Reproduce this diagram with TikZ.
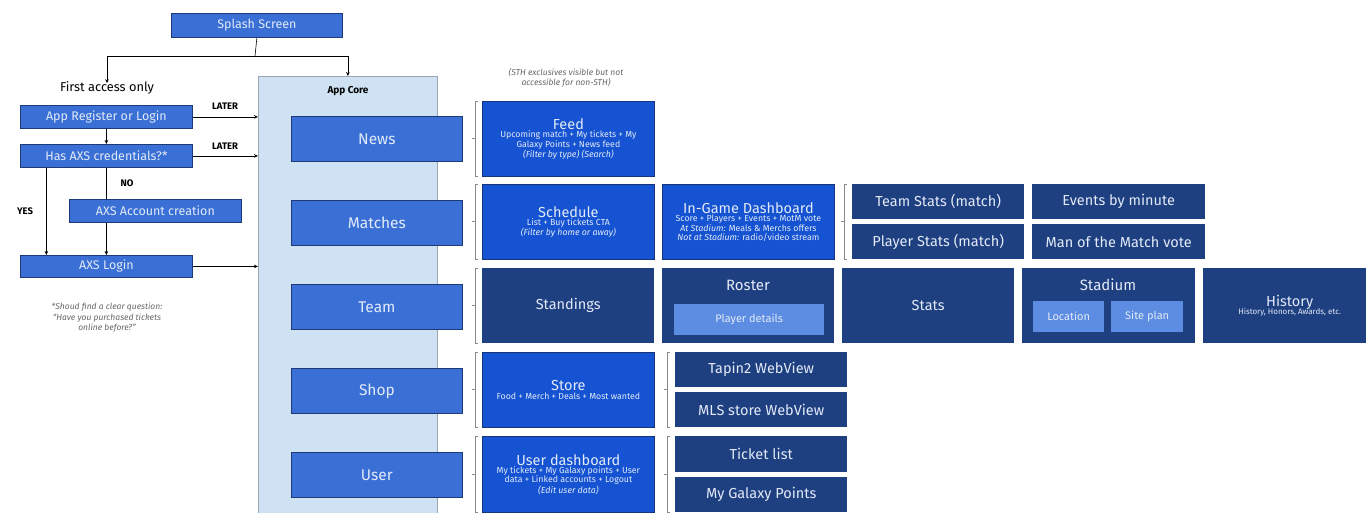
\documentclass[tikz,border=0pt]{standalone}
\usepackage{fontspec}
\setmainfont{Fira Sans}
\usetikzlibrary{arrows.meta}

\definecolor{midblue}{HTML}{3A70D6}
\definecolor{midedge}{HTML}{1E3A78}
\definecolor{royal}{HTML}{1553D2}
\definecolor{royaledge}{HTML}{16357A}
\definecolor{navy}{HTML}{1E3F80}
\definecolor{lightblue}{HTML}{5C8DE2}
\definecolor{corefill}{HTML}{CFE2F3}
\definecolor{coreedge}{HTML}{9AA6B4}
\definecolor{paletext}{HTML}{E2EAF7}
\definecolor{notegray}{HTML}{666666}
\definecolor{bracegray}{HTML}{8A8A8A}

\tikzset{
  flow/.style={draw=midedge, line width=0.8pt, fill=midblue, text=paletext,
    font=\fontsize{12.5}{14}\selectfont, minimum width=172pt, minimum height=23pt,
    inner sep=0pt, anchor=north west},
  section/.style={draw=midedge, line width=0.8pt, fill=midblue, text=paletext,
    font=\fontsize{15.5}{17}\selectfont, minimum width=171pt, minimum height=45pt,
    inner sep=0pt, anchor=north west},
  screen/.style={draw=royaledge, line width=0.8pt, fill=royal, text=paletext, align=flush center,
    text width=170pt, font=\fontsize{14.5}{16}\selectfont, minimum width=172pt, minimum height=75pt,
    inner sep=0pt, anchor=north west},
  subscreen/.style={fill=navy, text=paletext, align=flush center, text width=170pt,
    font=\fontsize{14.5}{16}\selectfont, minimum width=172pt, minimum height=75pt,
    inner sep=0pt, anchor=north west},
  leaf/.style={fill=navy, text=paletext, font=\fontsize{14.5}{16}\selectfont,
    minimum width=172pt, minimum height=35pt, inner sep=0pt, anchor=north west},
  detail/.style={fill=lightblue, text=paletext, font=\fontsize{11}{12}\selectfont,
    minimum height=31pt, inner sep=0pt, anchor=north west},
  inbox/.style={font=\fontsize{15}{17}\selectfont, text=paletext},
  flowlabel/.style={font=\bfseries\fontsize{9.5}{10}\selectfont},
  note/.style={font=\itshape\fontsize{8.5}{10.5}\selectfont, text=notegray, align=center},
  arr/.style={-{Stealth[length=4pt,width=3.5pt]}, line width=0.6pt},
  link/.style={line width=0.6pt},
  bracket/.style={draw=bracegray, line width=0.6pt},
}

% small description lines inside the screen boxes
\newcommand{\subtext}{\fontsize{8.8}{9.3}\selectfont}
\newcommand{\groupbracket}[3]{%
  \draw[bracket] (#1+3,#2) -- (#1,#2) -- (#1,#3) -- (#1+3,#3);
  \draw[bracket] (#1,{(#2+#3)/2}) -- (#1-3,{(#2+#3)/2});}

\begin{document}
\begin{tikzpicture}[x=1pt,y=-1pt]
\useasboundingbox (0,0) rectangle (1366,512);
\clip (0,0) rectangle (1366,512);

% ---------- onboarding flow ----------
\node[flow, minimum width=171pt, minimum height=24pt] (splash) at (171,13) {Splash Screen};
\node[font=\fontsize{12.8}{14}\selectfont] (first) at (107,88) {First access only};
\node[flow] (reg) at (20,105) {App Register or Login};
\node[flow] (has) at (20,144) {Has AXS credentials?*};
\node[flow] (acc) at (69,199) {AXS Account creation};
\node[flow, minimum height=22pt] (login) at (20,255) {AXS Login};
\node[note] (footnote) at (107,318)
  {*Shoud find a clear question:\\``Have you purchased tickets\\online before?''};

% ---------- app core ----------
\node[draw=coreedge, fill=corefill, line width=0.8pt, minimum width=179pt, minimum height=460pt,
      inner sep=0pt, anchor=north west] (core) at (258,76) {};
\node[flowlabel, font=\bfseries\fontsize{10}{11}\selectfont] (coretitle) at (348,91) {App Core};

\node[section] (news) at (291,116) {News};
\node[section] (matches) at (291,200) {Matches};
\node[section] (team) at (291,284) {Team};
\node[section] (shop) at (291,368) {Shop};
\node[section] (user) at (291,452) {User};

% ---------- flow connectors ----------
\coordinate (split) at (255,56);
\draw[link] (splash.south) -- (split);
\draw[arr] (split) -| ([yshift=-5pt]first.north);
\draw[arr] (split) -| (core.north);
\draw[arr] (reg.south) -- (has.north);
\draw[arr] ([xshift=-60pt]has.south) -- ([xshift=-60pt]login.north);
\draw[link] (has.south) -- (has.south |- acc.north);
\draw[arr] (has.south |- acc.south) -- (login.north);
\draw[arr] (reg.east) -- (reg.east -| core.west);
\draw[arr] (has.east) -- (has.east -| core.west);
\draw[arr] (login.east) -- (login.east -| core.west);

\node[flowlabel] (later1) at (225,106) {LATER};
\node[flowlabel] (later2) at (225,146) {LATER};
\node[flowlabel] (nolabel) at (127,183) {NO};
\node[flowlabel] (yeslabel) at (25,211) {YES};

% ---------- news ----------
\node[note] (sthnote) at (566,78)
  {(STH exclusives visible but not\\accessible for non-STH)};
\groupbracket{475}{101}{176}
\node[screen] (feed) at (482,101) {Feed\\[-1pt]
  {\subtext Upcoming match + My tickets + My\\Galaxy Points + News feed\\\itshape (Filter by type) (Search)\par}};

% ---------- matches ----------
\groupbracket{475}{184}{259}
\node[screen] (schedule) at (482,184) {Schedule\\[-1pt]
  {\subtext List + Buy tickets CTA\\\itshape (Filter by home or away)\par}};
\node[screen] (ingame) at (662,184) {In-Game Dashboard\\[-1pt]
  {\subtext Score + Players + Events + MotM vote\\
   \textit{At Stadium:} Meals \& Merchs offers\\
   \textit{Not at Stadium:} radio/video stream\par}};
\groupbracket{844}{184}{259}
\node[leaf] (teamstats) at (852,184) {Team Stats (match)};
\node[leaf, minimum width=173pt] (events) at (1032,184) {Events by minute};
\node[leaf] (playerstats) at (852,224) {Player Stats (match)};
\node[leaf, minimum width=173pt] (motm) at (1032,224) {Man of the Match vote};

% ---------- team ----------
\groupbracket{475}{268}{343}
\node[subscreen] (standings) at (482,268) {Standings};
\node[subscreen] (roster) at (662,268) {};
\node[inbox] (rostertitle) at (748,285) {Roster};
\node[detail, minimum width=150pt] (players) at (674,304) {Player details};
\node[subscreen] (stats) at (842,268) {Stats};
\node[subscreen, minimum width=173pt] (stadium) at (1022,268) {};
\node[inbox] (stadiumtitle) at (1108,285) {Stadium};
\node[detail, minimum width=71pt] (location) at (1033,301) {Location};
\node[detail, minimum width=72pt] (siteplan) at (1111,301) {Site plan};
\node[subscreen, minimum width=173pt] (history) at (1203,268) {History\\[-2pt]
  {\fontsize{8}{9}\selectfont History, Honors, Awards, etc.\par}};

% ---------- shop ----------
\groupbracket{475}{352}{427}
\node[screen] (store) at (482,352) {Store\\[-1pt]
  {\subtext Food + Merch + Deals + Most wanted\par}};
\groupbracket{667}{352}{427}
\node[leaf] (tapin) at (675,352) {Tapin2 WebView};
\node[leaf] (mls) at (675,392) {MLS store WebView};

% ---------- user ----------
\groupbracket{475}{436}{512}
\node[screen, minimum height=76pt] (userdash) at (482,436) {User dashboard\\[-1pt]
  {\subtext My tickets + My Galaxy points + User\\data + Linked accounts + Logout\\\itshape (Edit user data)\par}};
\groupbracket{667}{436}{512}
\node[leaf, minimum height=36pt] (tickets) at (675,436) {Ticket list};
\node[leaf] (points) at (675,477) {My Galaxy Points};
\end{tikzpicture}
\end{document}
